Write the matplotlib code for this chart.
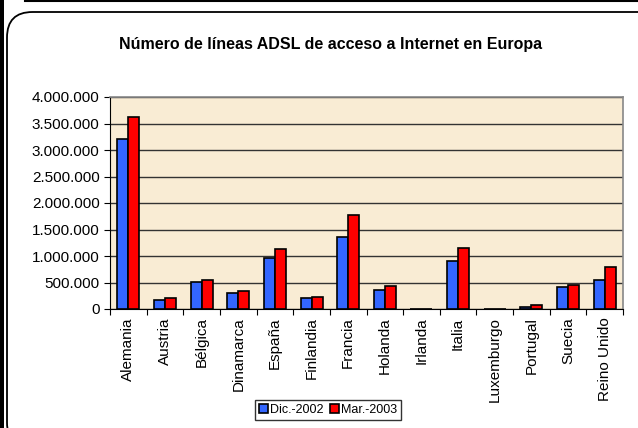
import matplotlib.pyplot as plt
from matplotlib.patches import FancyBboxPatch, Rectangle
import numpy as np

plt.rcParams['font.family'] = ['Liberation Sans', 'DejaVu Sans']

paises = ['Alemania', 'Austria', 'Bélgica', 'Dinamarca', 'España', 'Finlandia',
          'Francia', 'Holanda', 'Irlanda', 'Italia', 'Luxemburgo', 'Portugal',
          'Suecia', 'Reino Unido']
dic2002 = [3200000, 170000, 515000, 296000, 956000, 207000,
           1353000, 353000, 6000, 905000, 4000, 44000, 415000, 547000]
mar2003 = [3630000, 200000, 547000, 345000, 1130000, 226000,
           1774000, 440000, 7000, 1157000, 5000, 75000, 458000, 792000]
yticks = [0, 500000, 1000000, 1500000, 2000000, 2500000, 3000000, 3500000, 4000000]

def miles(v):
    return '{:,}'.format(int(v)).replace(',', '.')

fig = plt.figure(figsize=(6.38, 4.28), dpi=100)

# marco de la diapositiva
fig.patches.append(Rectangle((0, 0), 4/638, 1, transform=fig.transFigure,
                             facecolor='black', edgecolor='none'))
fig.lines.append(plt.Line2D([25/638, 1], [1 - 1/428, 1 - 1/428],
                            transform=fig.transFigure, color='black', lw=1.5))
fig.patches.append(FancyBboxPatch((7/638, -20/428), 660/638, 436/428,
                                  boxstyle='round,pad=0,rounding_size=0.04',
                                  transform=fig.transFigure, facecolor='none',
                                  edgecolor='black', lw=1.3, mutation_aspect=638/428))

ax = fig.add_axes([110/638, (428-309)/428, 513/638, 212/428])
ax.set_facecolor('#f9ecd4')

x = np.arange(len(paises))
w = 0.3
ax.bar(x - w/2, dic2002, w, color='#3366ff', edgecolor='black', lw=1.2,
       label='Dic.-2002', zorder=3)
ax.bar(x + w/2, mar2003, w, color='#ff0000', edgecolor='black', lw=1.2,
       label='Mar.-2003', zorder=3)

ax.set_xlim(-0.5, len(paises) - 0.5)
ax.set_ylim(0, 4000000)
ax.set_yticks(yticks)
ax.set_yticklabels([miles(v) for v in yticks], fontsize=11)
ax.yaxis.grid(True, color='#333333', lw=1, zorder=1)

ax.set_xticks(np.arange(len(paises) + 1) - 0.5)
ax.set_xticklabels([])
ax.set_xticks(x, minor=True)
ax.set_xticklabels(paises, minor=True, rotation=90, fontsize=11)
ax.tick_params(axis='x', which='minor', length=0, pad=6)
ax.tick_params(axis='x', which='major', length=4, direction='out')
ax.tick_params(axis='y', length=4, direction='out')

for s in ['top', 'right']:
    ax.spines[s].set_color('#888888')
    ax.spines[s].set_linewidth(1.2)
ax.spines['left'].set_color('black')
ax.spines['bottom'].set_color('black')

fig.text(331/638, 1 - 45/428, 'Número de líneas ADSL de acceso a Internet en Europa',
         ha='center', va='center', fontsize=11.5, fontweight='bold')

leg = fig.legend(loc='center', bbox_to_anchor=(328/638, 1 - 410/428), ncol=2,
                 fontsize=9, frameon=True, fancybox=False, handlelength=0.7,
                 handleheight=0.7, handletextpad=0.2, columnspacing=0.5,
                 borderpad=0.3)
leg.get_frame().set_edgecolor('black')
leg.get_frame().set_linewidth(1)

fig.savefig('out.png', dpi=100)
